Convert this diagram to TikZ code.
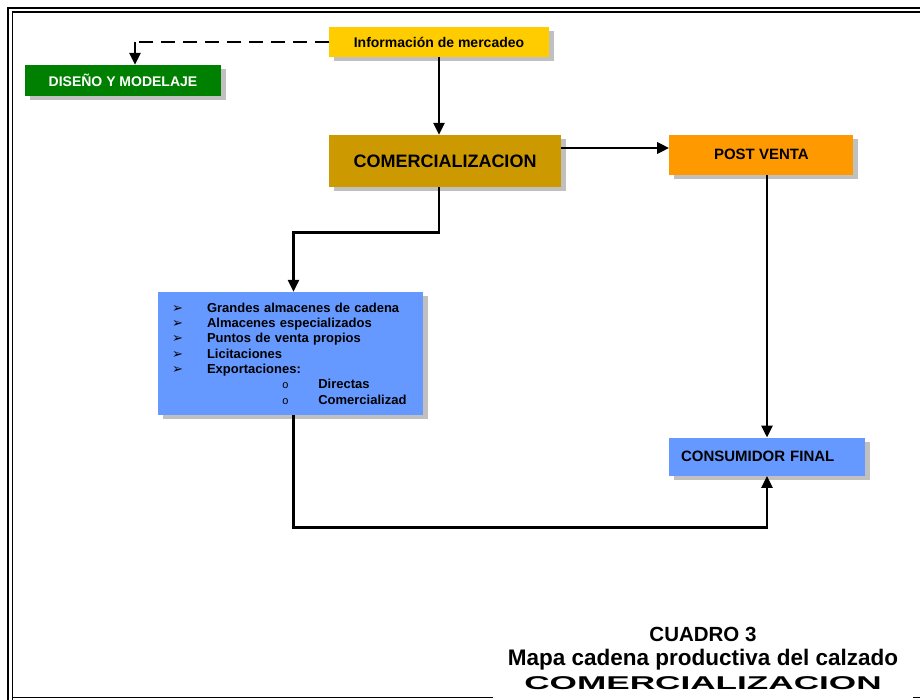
\documentclass[tikz,border=0pt]{standalone}
\usepackage{fontspec}
\setmainfont{Liberation Sans}
\newfontfamily\simbolos{DejaVu Sans}
\newfontfamily\monofnt{Liberation Mono}
\newfontfamily\anchafont[FakeStretch=1.9]{Liberation Sans}
\usetikzlibrary{
    positioning,      % For placing nodes relative to each other
    arrows.meta,      % For modern arrow tips
    shadows           % For the solid grey box shadows
}
\definecolor{amarillo}{HTML}{FFCC00}
\definecolor{verde}{HTML}{008000}
\definecolor{dorado}{HTML}{CC9900}
\definecolor{naranja}{HTML}{FF9900}
\definecolor{azul}{HTML}{6699FF}
\definecolor{sombra}{HTML}{C0C0C0}
\newcommand{\vineta}{\makebox[35pt][l]{\simbolos\mdseries\fontsize{13}{13}\selectfont ➢}}
\newcommand{\subvineta}{\hspace*{110pt}\makebox[36.3pt][l]{\monofnt\mdseries\fontsize{11}{11}\selectfont o}}

\begin{document}
\begin{tikzpicture}[
    x=1pt, y=-1pt,
    % Global style settings
    caja/.style={
        rectangle,
        inner sep=0pt,
        font=\bfseries\fontsize{14}{16}\selectfont,
        general shadow={fill=sombra, shadow xshift=5pt, shadow yshift=-4pt}
    },
    linea/.style={
        line width=2.8pt
    },
    flecha/.style={
        linea,
        -{Triangle[length=12pt, width=11pt]}
    }
]
    \useasboundingbox (0,0) rectangle (920,699);

    % 1. Double frame round the page (cut off at the right and bottom).
    \draw[line width=2.7pt] (8,710) -- (8,8) -- (930,8);
    \draw[line width=1.3pt] (12.5,710) -- (12.5,12) -- (930,12);
    \draw[line width=1.3pt] (12.5,697.5) -- (930,697.5);

    % 2. The boxes.
    \node[caja, fill=amarillo, minimum width=220pt, minimum height=30pt] (info) at (439,42) {Información de mercadeo};
    \node[caja, fill=verde, text=white, minimum width=196pt, minimum height=31pt] (diseno) at (123,80.5) {DISEÑO Y MODELAJE};
    \node[caja, fill=dorado, minimum width=232pt, minimum height=52pt, font=\bfseries\fontsize{18}{20}\selectfont] (comercial) at (445,161) {COMERCIALIZACION};
    \node[caja, fill=naranja, minimum width=184pt, minimum height=39.5pt, font=\bfseries\fontsize{15}{17}\selectfont,
          right=108pt of comercial.north east, anchor=north west] (postventa) {POST VENTA};
    \node[caja, fill=azul, minimum height=123pt, text width=237pt, inner xsep=14pt, align=left,
          font=\bfseries\fontsize{13}{15.3}\selectfont] (canales) at (290.5,353.5) {%
        \vineta Grandes almacenes de cadena\\
        \vineta Almacenes especializados\\
        \vineta Puntos de venta propios\\
        \vineta Licitaciones\\
        \vineta Exportaciones:\\
        \subvineta Directas\\
        \subvineta Comercializad};
    \node[caja, fill=azul, minimum height=38pt, text width=172pt, inner xsep=12pt, align=left,
          font=\bfseries\fontsize{15}{17}\selectfont] (consumidor) at (767,456.7) {CONSUMIDOR FINAL};

    % 3. Caption, on white so that it hides the frame below it.
    \node[fill=white, minimum width=420pt, inner ysep=11pt, anchor=south, align=center,
          font=\bfseries\fontsize{20}{24}\selectfont] (cuadro) at (703,701) {%
        {\fontsize{20.5}{24}\selectfont CUADRO 3}\\
        {\fontsize{22.5}{24}\selectfont Mapa cadena productiva del calzado}\\
        {\anchafont\fontsize{18.5}{24}\selectfont COMERCIALIZACION}};

    % 4. Connectors.
    \coordinate (esquina) at ([xshift=12pt]diseno.north |- info.west);
    \draw[linea, dash pattern=on 14pt off 8pt] (info.west) -- (esquina);
    \draw[flecha] (esquina) -- ([xshift=12pt]diseno.north);
    \draw[flecha] (info.south) -- (info.south |- comercial.north);
    \draw[flecha] ([yshift=13pt]comercial.east) -- ([yshift=13pt]comercial.east -| postventa.west);
    \draw[flecha] (info.south |- comercial.south) -- ++(0,45) -| ([xshift=3pt]canales.north);
    \draw[flecha] (postventa.south -| consumidor.north) -- (consumidor.north);
    \draw[flecha] ([xshift=3pt]canales.south) -- ++(0,112) -| (consumidor.south);

\end{tikzpicture}
\end{document}
